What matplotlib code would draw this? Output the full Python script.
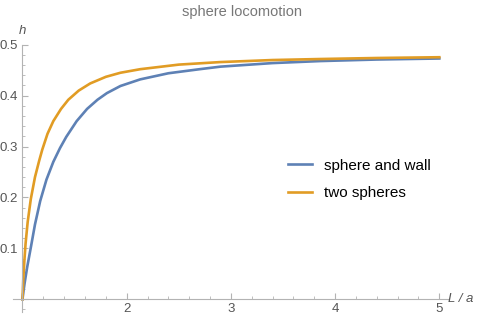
import numpy as np
import matplotlib.pyplot as plt
from matplotlib.ticker import MultipleLocator, FixedLocator

plt.rcParams['font.family'] = ['Liberation Sans', 'DejaVu Sans']

# curves (L/a, h)
wall_x = [1.0, 1.01, 1.02, 1.045, 1.083, 1.12, 1.17, 1.23, 1.296, 1.36, 1.42, 1.52, 1.62,
          1.72, 1.81, 1.94, 2.13, 2.4, 2.7, 2.9, 3.4, 3.86, 4.4, 5.0]
wall_h = [0.0, 0.016, 0.031, 0.063, 0.105, 0.147, 0.193, 0.235, 0.270, 0.297, 0.319, 0.350, 0.374,
          0.392, 0.405, 0.419, 0.432, 0.444, 0.452, 0.457, 0.464, 0.468, 0.471, 0.473]

two_x = [1.0, 1.008, 1.018, 1.03, 1.05, 1.08, 1.12, 1.16, 1.19, 1.24, 1.296, 1.37,
         1.44, 1.54, 1.65, 1.8, 1.94, 2.13, 2.5, 2.9, 3.4, 3.86, 4.4, 5.0]
two_h = [0.0, 0.04, 0.075, 0.11, 0.152, 0.197, 0.24, 0.272, 0.294, 0.325, 0.350, 0.374,
         0.392, 0.410, 0.424, 0.437, 0.445, 0.452, 0.461, 0.466, 0.470, 0.472, 0.474, 0.4755]

labels = ['sphere and wall', 'two spheres']
colors = ['#5e81b5', '#e19c24']
title = 'sphere locomotion'

fig = plt.figure(figsize=(4.85, 3.22), dpi=100)
ax = fig.add_axes([0.027, 0.031, 0.896, 0.830])

ax.plot(wall_x, wall_h, color=colors[0], lw=1.9, label=labels[0])
ax.plot(two_x, two_h, color=colors[1], lw=1.9, label=labels[1])

ax.set_xlim(0.91, 5.08)
ax.set_ylim(-0.025, 0.5)

axcol = '#b3b3b3'
for s in ['top', 'right']:
    ax.spines[s].set_visible(False)
ax.spines['left'].set_position(('data', 1))
ax.spines['bottom'].set_position(('data', 0))
ax.spines['left'].set_color(axcol)
ax.spines['bottom'].set_color(axcol)

ax.xaxis.set_major_locator(FixedLocator([1, 2, 3, 4, 5]))
ax.xaxis.set_minor_locator(MultipleLocator(0.2))
ax.yaxis.set_major_locator(FixedLocator([0, 0.1, 0.2, 0.3, 0.4, 0.5]))
ax.yaxis.set_minor_locator(MultipleLocator(0.02))
ax.set_xticklabels(['', '2', '3', '4', '5'])
ax.set_yticklabels(['', '0.1', '0.2', '0.3', '0.4', '0.5'])
ax.tick_params(which='major', direction='in', length=4, width=0.8, color=axcol,
               labelsize=9.5, labelcolor='#555555', pad=3)
ax.tick_params(which='minor', direction='in', length=2.3, width=0.6, color=axcol)

ax.text(1.0, 0.515, 'h', style='italic', fontsize=9.5, color='#555555',
        ha='center', va='bottom')
ax.text(5.08, 0.0, 'L / a', style='italic', fontsize=9.5, color='#555555',
        ha='left', va='center', clip_on=False)
fig.text(0.5, 0.962, title, ha='center', va='center', fontsize=10.5, color='#777777')

ax.legend(loc='upper left', bbox_to_anchor=(0.6, 0.625), frameon=False,
          fontsize=11, handlelength=1.6, handletextpad=0.8, labelspacing=0.9)

fig.savefig('out.png', dpi=100)
